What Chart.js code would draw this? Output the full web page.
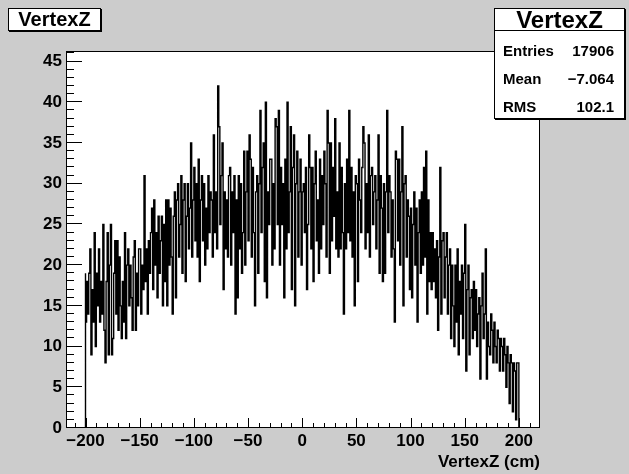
<!DOCTYPE html>
<html>
<head>
<meta charset="utf-8">
<script src="https://cdn.jsdelivr.net/npm/chart.js@4.4.1/dist/chart.umd.min.js"></script>
<style>
  html, body { margin: 0; padding: 0; background: #cccccc; }
  #wrap { position: relative; width: 629px; height: 474px; font-family: "Liberation Sans", Arial, sans-serif; font-weight: bold; color: #000; }
  #chart { position: absolute; left: 0; top: 0; }
  .pave { position: absolute; background: #fff; border: 1px solid #000; box-shadow: 1px 1px 0 #000; box-sizing: border-box; }
  #title { left: 8px; top: 8px; width: 93px; height: 23px; font-size: 20px; line-height: 21px; text-align: center; }
  #stats { left: 494px; top: 8px; width: 131px; height: 111px; }
  #stats .head { height: 21px; border-bottom: 1px solid #000; font-size: 24px; line-height: 22px; text-align: center; }
  #stats .row { position: absolute; left: 8px; right: 10px; height: 20px; font-size: 15px; line-height: 20px; }
  #stats .row span { float: right; }
</style>
</head>
<body>
<div id="wrap">
  <canvas id="chart" width="629" height="474"></canvas>
  <div class="pave" id="title">VertexZ</div>
  <div class="pave" id="stats">
    <div class="head">VertexZ</div>
    <div class="row" style="top:32px">Entries<span>17906</span></div>
    <div class="row" style="top:60px">Mean<span>&minus;7.064</span></div>
    <div class="row" style="top:88px">RMS<span>102.1</span></div>
  </div>
</div>
<script>
// ===== Histogram data (counts per 1 cm bin, from -200 to 200 cm) =====
const binLow = -200;
const binWidth = 1;
const counts = [
  19, 13, 18, 14, 19, 22, 9, 17, 13, 24, 10, 19, 15, 22, 13, 18, 14, 25, 12, 8,
  18, 24, 9, 20, 25, 9, 11, 19, 23, 14, 23, 12, 21, 15, 11, 18, 13, 24, 11, 20,
  22, 15, 20, 16, 12, 21, 23, 12, 19, 15, 22, 22, 14, 20, 17, 31, 18, 22, 14, 23,
  19, 24, 27, 17, 28, 20, 24, 16, 26, 19, 23, 26, 15, 25, 18, 28, 15, 28, 20, 27,
  21, 14, 26, 29, 16, 28, 30, 21, 25, 31, 19, 28, 30, 18, 26, 30, 22, 27, 35, 21,
  28, 32, 23, 30, 21, 33, 18, 28, 31, 23, 30, 20, 27, 22, 31, 24, 29, 28, 21, 36,
  24, 29, 22, 42, 37, 25, 31, 35, 17, 29, 22, 28, 21, 31, 32, 20, 29, 24, 31, 14,
  28, 16, 31, 22, 30, 19, 24, 34, 20, 29, 34, 23, 36, 33, 21, 32, 24, 15, 29, 31,
  19, 30, 39, 24, 32, 35, 18, 40, 16, 29, 25, 33, 33, 20, 30, 22, 38, 37, 25, 39,
  20, 32, 25, 30, 16, 33, 22, 40, 24, 29, 37, 17, 32, 36, 15, 30, 34, 21, 29, 33,
  20, 29, 30, 24, 32, 17, 25, 36, 32, 22, 32, 18, 30, 34, 23, 28, 19, 33, 22, 31,
  25, 34, 30, 21, 39, 35, 19, 35, 23, 32, 26, 38, 22, 29, 21, 35, 22, 32, 24, 14,
  30, 22, 33, 24, 39, 23, 32, 21, 29, 15, 31, 30, 18, 33, 28, 24, 32, 37, 35, 22,
  30, 24, 36, 21, 31, 32, 25, 29, 31, 22, 28, 36, 19, 31, 27, 18, 30, 19, 29, 39,
  24, 31, 29, 21, 28, 22, 13, 34, 33, 23, 33, 20, 29, 37, 15, 30, 31, 21, 28, 26,
  17, 27, 16, 25, 29, 20, 27, 13, 24, 28, 19, 29, 20, 32, 21, 34, 14, 28, 18, 24,
  17, 24, 18, 22, 16, 23, 12, 21, 32, 14, 23, 24, 16, 21, 24, 14, 20, 22, 11, 20,
  15, 10, 20, 13, 22, 9, 18, 14, 20, 11, 19, 25, 7, 17, 20, 9, 16, 17, 11, 18,
  12, 17, 10, 14, 16, 6, 15, 19, 11, 14, 22, 6, 13, 10, 9, 14, 12, 8, 13, 10,
  8, 12, 11, 7, 11, 10, 7, 11, 9, 5, 10, 8, 3, 9, 8, 2, 8, 7, 1, 8
];
const xTicks = [-200, -150, -100, -50, 0, 50, 100, 150, 200];
const yTicks = [0, 5, 10, 15, 20, 25, 30, 35, 40, 45];
const xMin = -218, xMax = 219.5;
const yMax = 46.3;

// build the step outline: rise from 0 at the first edge, fall to 0 at the last
const points = [{x: binLow, y: 0}];
counts.forEach((c, i) => points.push({x: binLow + i * binWidth, y: c}));
const binHigh = binLow + counts.length * binWidth;
points.push({x: binHigh, y: counts[counts.length - 1]});
points.push({x: binHigh, y: 0});

const tickFont = {family: '"Liberation Sans", Arial, sans-serif', size: 17, weight: 'bold'};
const fmt = v => (v < 0 ? '\u2212' + Math.abs(v) : String(v));

// ROOT style frame with inward ticks
const rootFrame = {
  id: 'rootFrame',
  afterDatasetsDraw(chart) {
    const {ctx, chartArea: a, scales: {x, y}} = chart;
    ctx.save();
    ctx.strokeStyle = '#000';
    ctx.lineWidth = 1;
    ctx.beginPath();
    for (let v = 0; v <= 46; v++) {
      const py = Math.round(y.getPixelForValue(v)) - 0.5;
      ctx.moveTo(a.left, py);
      ctx.lineTo(a.left + (v % 5 === 0 ? 16 : 8), py);
    }
    for (let v = -210; v <= 210; v += 10) {
      const px = Math.round(x.getPixelForValue(v)) + 0.5;
      ctx.moveTo(px, a.bottom);
      ctx.lineTo(px, a.bottom - (v % 50 === 0 ? 10 : 5));
    }
    ctx.stroke();
    ctx.strokeRect(a.left + 0.5, a.top + 0.5, a.right - a.left - 1, a.bottom - a.top - 1);
    ctx.restore();
  }
};

const chartBg = {
  id: 'chartBg',
  beforeDraw(chart) {
    const {ctx, chartArea: a} = chart;
    ctx.save();
    ctx.fillStyle = '#cccccc';
    ctx.fillRect(0, 0, chart.width, chart.height);
    ctx.fillStyle = '#ffffff';
    ctx.fillRect(a.left, a.top, a.right - a.left, a.bottom - a.top);
    ctx.restore();
  }
};

new Chart(document.getElementById('chart').getContext('2d'), {
  type: 'line',
  data: {
    datasets: [{
      label: 'VertexZ',
      data: points,
      stepped: 'after',
      borderColor: '#000000',
      borderWidth: 1.4,
      pointRadius: 0,
      fill: false,
      tension: 0
    }]
  },
  options: {
    responsive: false,
    animation: false,
    devicePixelRatio: 1,
    layout: {padding: {top: 51, right: 89, left: 0, bottom: 0}},
    plugins: {legend: {display: false}, tooltip: {enabled: false}},
    scales: {
      x: {
        type: 'linear',
        min: xMin,
        max: xMax,
        grid: {display: false, drawTicks: false},
        border: {display: false},
        afterBuildTicks: s => { s.ticks = xTicks.map(v => ({value: v})); },
        afterFit: s => { s.height = 46; },
        ticks: {font: tickFont, color: '#000', padding: 3, maxRotation: 0, autoSkip: false, callback: v => fmt(v)},
        title: {display: true, text: 'VertexZ (cm)', align: 'end', font: tickFont, color: '#000', padding: {top: 0, bottom: 1}}
      },
      y: {
        min: 0,
        max: yMax,
        grid: {display: false, drawTicks: false},
        border: {display: false},
        afterBuildTicks: s => { s.ticks = yTicks.map(v => ({value: v})); },
        afterFit: s => { s.width = 66; },
        ticks: {font: tickFont, color: '#000', padding: 4, autoSkip: false, callback: v => fmt(v)}
      }
    }
  },
  plugins: [chartBg, rootFrame]
});
</script>
</body>
</html>
